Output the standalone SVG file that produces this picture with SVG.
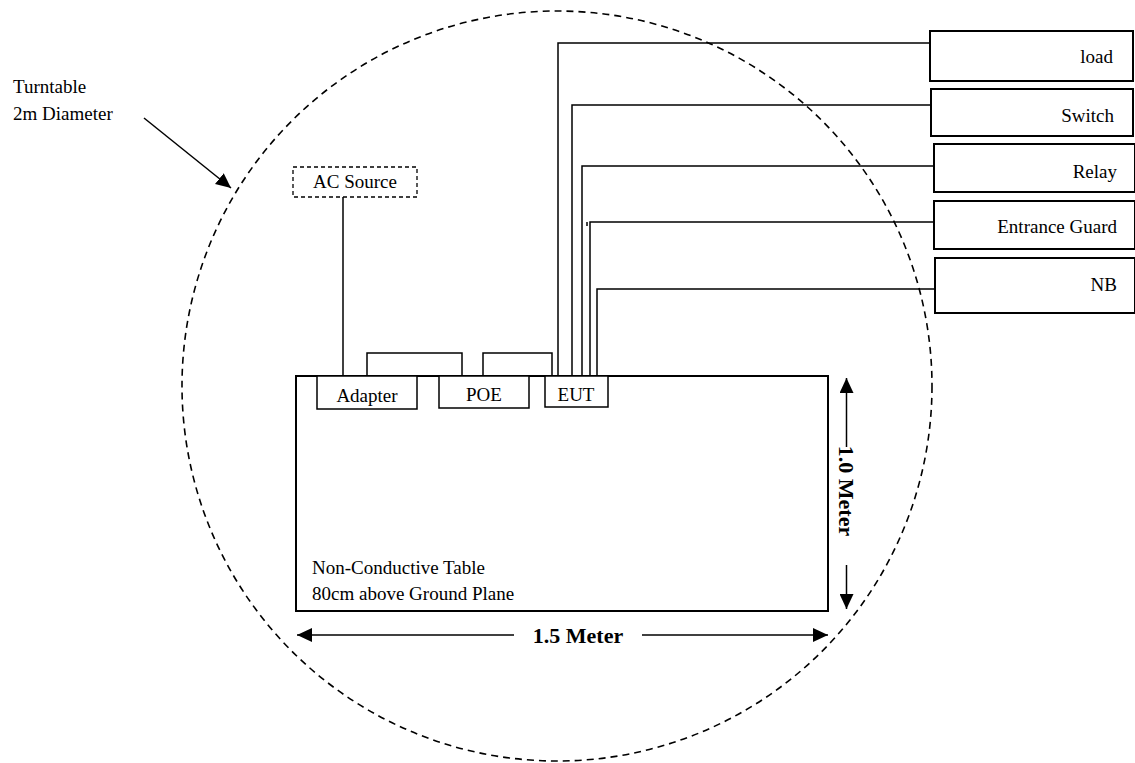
<svg xmlns="http://www.w3.org/2000/svg" width="1135" height="763" viewBox="0 0 1135 763">
<style>
text{font-family:"Liberation Serif","Times New Roman",serif;font-size:19px;fill:#000}
.b{font-weight:bold;font-size:22px}
.box{fill:#fff;stroke:#000;stroke-width:1.5}
.rbox{fill:#fff;stroke:#000;stroke-width:2}
.w{fill:none;stroke:#000;stroke-width:1.5}
.dim{fill:none;stroke:#000;stroke-width:1.5}
</style>
<defs>
<marker id="ah" viewBox="0 0 15 14" refX="15" refY="7" markerWidth="15" markerHeight="14" markerUnits="userSpaceOnUse" orient="auto-start-reverse">
<path d="M0,0 L15,7 L0,14 z" fill="#000"/>
</marker>
</defs>
<rect width="1135" height="763" fill="#fff"/>
<g id="turntable">
<circle cx="557" cy="386" r="375" fill="none" stroke="#000" stroke-width="1.6" stroke-dasharray="7 5"/>
<text x="13" y="93">Turntable</text>
<text x="13" y="120">2m Diameter</text>
</g>
<g id="connectors">
<line class="w" x1="144" y1="118" x2="231" y2="188" marker-end="url(#ah)"/>
<line class="w" x1="343" y1="197" x2="343" y2="376"/>
<polyline class="w" points="367,376 367,353 462,353 462,376"/>
<polyline class="w" points="483,376 483,353 552,353 552,376"/>
<polyline class="w" points="558,376 558,43 930,43"/>
<polyline class="w" points="572,376 572,105 931,105"/>
<polyline class="w" points="582,376 582,166 934,166"/>
<polyline class="w" points="590,376 590,222 934,222"/>
<line class="w" x1="587" y1="222" x2="587" y2="226"/>
<polyline class="w" points="597,376 597,289 935,289"/>
</g>
<g id="table">
<rect x="296" y="376" width="532" height="235" fill="none" stroke="#000" stroke-width="2"/>
<text x="312" y="574">Non-Conductive Table</text>
<text x="312" y="600">80cm above Ground Plane</text>
</g>
<g id="ac-source">
<rect x="293" y="167" width="124" height="30" fill="#fff" stroke="#000" stroke-width="1.3" stroke-dasharray="4 3"/>
<text x="355" y="188" text-anchor="middle">AC Source</text>
</g>
<g id="adapter">
<rect class="box" x="317" y="376" width="100" height="33"/>
<text x="367" y="402" text-anchor="middle">Adapter</text>
</g>
<g id="poe">
<rect class="box" x="439" y="376" width="90" height="32"/>
<text x="484" y="401" text-anchor="middle">POE</text>
</g>
<g id="eut">
<rect class="box" x="545" y="376" width="63" height="31"/>
<text x="576" y="401" text-anchor="middle">EUT</text>
</g>
<g id="load">
<rect class="rbox" x="930" y="31" width="203" height="50"/>
<text x="1113" y="63" text-anchor="end">load</text>
</g>
<g id="switch">
<rect class="rbox" x="931" y="89" width="202" height="47"/>
<text x="1114" y="122" text-anchor="end">Switch</text>
</g>
<g id="relay">
<rect class="rbox" x="934" y="144" width="201" height="48"/>
<text x="1117" y="178" text-anchor="end">Relay</text>
</g>
<g id="entrance-guard">
<rect class="rbox" x="934" y="201" width="201" height="48"/>
<text x="1117" y="233" text-anchor="end">Entrance Guard</text>
</g>
<g id="nb">
<rect class="rbox" x="935" y="258" width="200" height="55"/>
<text x="1117" y="291" text-anchor="end">NB</text>
</g>
<g id="dimensions">
<line class="dim" x1="846.5" y1="447" x2="846.5" y2="378" marker-end="url(#ah)"/>
<line class="dim" x1="846.5" y1="565" x2="846.5" y2="609" marker-end="url(#ah)"/>
<text class="b" transform="translate(846.5,491) rotate(90)" text-anchor="middle" dy="0.35em">1.0 Meter</text>
<line class="dim" x1="514" y1="635" x2="297" y2="635" marker-end="url(#ah)"/>
<line class="dim" x1="642" y1="635" x2="828" y2="635" marker-end="url(#ah)"/>
<text class="b" x="578" y="643" text-anchor="middle">1.5 Meter</text>
</g>
</svg>
